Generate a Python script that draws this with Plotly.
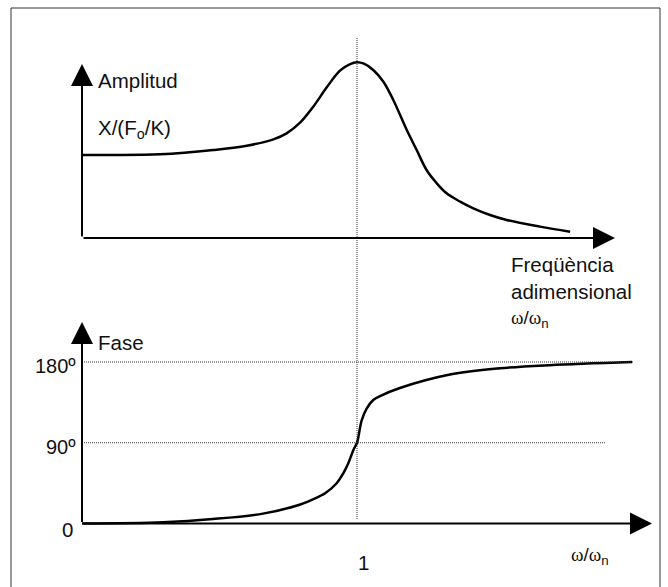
import plotly.graph_objects as go

W, H = 668, 587

# Amplitude response X/(Fo/K) versus frequency ratio w/wn
amp_ratio = [0.0, 0.10, 0.284, 0.477, 0.599, 0.696, 0.744, 0.793, 0.841, 0.890,
             0.938, 0.975, 1.0, 1.025, 1.059, 1.096, 1.132, 1.181, 1.217, 1.253,
             1.290, 1.326, 1.375, 1.423, 1.484, 1.544, 1.665, 1.775]
amp_value = [1.0, 1.0, 1.008, 1.060, 1.112, 1.189, 1.261, 1.389, 1.582, 1.815,
             2.016, 2.096, 2.117, 2.100, 2.024, 1.883, 1.663, 1.301, 1.060, 0.819,
             0.659, 0.538, 0.438, 0.357, 0.277, 0.217, 0.137, 0.076]

# Phase angle (degrees) versus frequency ratio
phase_ratio = [0.0, 0.295, 0.476, 0.658, 0.782, 0.840, 0.884, 0.926, 0.950, 0.968,
               0.987, 1.0, 1.017, 1.035, 1.059, 1.084, 1.156, 1.338, 1.52, 1.70, 2.0]
phase_deg = [0, 1.5, 5, 11, 20, 27, 33.7, 44.8, 56, 67,
             82, 90, 115, 128, 137.6, 142, 151, 166, 173, 176.5, 180]

phase_ticks = [180, 90]
phase_tick_text = ["180º", "90º"]

# ---- pixel layout of the drawing ----
X0_PX, X_UNIT_PX = 82, 275          # ratio 0 and pixels per unit ratio
AMP0_PX, AMP_UNIT_PX = 238, 83      # amplitude zero line, pixels per unit
PH0_PX, PH_DEG_PX = 523.5, (523.5 - 362) / 180.0

def py2paper(py):
    return 1 - py / H

def px2paper(px):
    return px / W

x_range = [-X0_PX / X_UNIT_PX, (W - X0_PX) / X_UNIT_PX]
y1_range = [(AMP0_PX - H / 2) / AMP_UNIT_PX, AMP0_PX / AMP_UNIT_PX]
y2_range = [(PH0_PX - H) / PH_DEG_PX, (PH0_PX - H / 2) / PH_DEG_PX]

fig = go.Figure()

curve = dict(color="black", width=2.5, shape="spline", smoothing=1.0)
fig.add_trace(go.Scatter(x=amp_ratio, y=amp_value, mode="lines", line=curve,
                         xaxis="x", yaxis="y", hoverinfo="skip"))
fig.add_trace(go.Scatter(x=phase_ratio, y=phase_deg, mode="lines", line=curve,
                         xaxis="x2", yaxis="y2", hoverinfo="skip"))

hidden = dict(visible=False, showgrid=False, zeroline=False, fixedrange=True)
fig.update_layout(
    width=W, height=H,
    margin=dict(l=0, r=0, t=0, b=0),
    paper_bgcolor="white", plot_bgcolor="white",
    showlegend=False,
    font=dict(family="Liberation Sans, Arial, sans-serif", color="#111111"),
    xaxis=dict(domain=[0, 1], range=x_range, anchor="y", **hidden),
    yaxis=dict(domain=[0.5, 1], range=y1_range, anchor="x", **hidden),
    xaxis2=dict(domain=[0, 1], range=x_range, anchor="y2", **hidden),
    yaxis2=dict(domain=[0, 0.5], range=y2_range, anchor="x2", **hidden),
)

dotted = dict(color="#333333", width=1, dash="1px,1px")
shapes = [
    # outer frame
    dict(type="rect", xref="paper", yref="paper",
         x0=px2paper(11), x1=px2paper(660), y0=py2paper(600), y1=py2paper(8),
         line=dict(color="#333333", width=1)),
    # resonance marker at w/wn = 1 spanning both panels
    dict(type="line", xref="x", yref="paper", x0=1, x1=1,
         y0=py2paper(519), y1=py2paper(38), line=dotted),
    # phase reference levels
    dict(type="line", xref="x2", yref="y2", x0=0, x1=(633 - X0_PX) / X_UNIT_PX,
         y0=180, y1=180, line=dotted),
    dict(type="line", xref="x2", yref="y2", x0=0, x1=(605 - X0_PX) / X_UNIT_PX,
         y0=90, y1=90, line=dotted),
]

def axis_arrow(xr, yr, tip_x, tip_y):
    return dict(x=tip_x, y=tip_y, ax=0, ay=0, xref=xr, yref=yr, axref=xr, ayref=yr,
                text="", showarrow=True, arrowhead=2, arrowsize=2.2, arrowwidth=2,
                arrowcolor="black", standoff=0, startstandoff=0)

annotations = [
    axis_arrow("x", "y", 0, (AMP0_PX - 64) / AMP_UNIT_PX),
    axis_arrow("x", "y", (615 - X0_PX) / X_UNIT_PX, 0),
    axis_arrow("x2", "y2", 0, (PH0_PX - 322) / PH_DEG_PX),
    axis_arrow("x2", "y2", (652 - X0_PX) / X_UNIT_PX, 0),
]

def label(text, px, py, size=20.5, xanchor="left"):
    return dict(text=text, x=px2paper(px), y=py2paper(py), xref="paper", yref="paper",
                xanchor=xanchor, yanchor="middle", align="left", showarrow=False,
                font=dict(size=size, color="#111111"))

omega = '<span style="font-family:Liberation Serif">ω</span>'
annotations += [
    label("Amplitud", 96, 80),
    label("X/(F<sub>o</sub>/K)", 96, 129),
    label("Freqüència<br>adimensional", 509, 278),
    label(omega + "/" + omega + "<sub>n</sub>", 509, 319, size=19),
    label("Fase", 96, 342),
    label(omega + "/" + omega + "<sub>n</sub>", 569, 556, size=19),
    label("1", 363, 562, xanchor="center"),
    label("0", 67, 529, xanchor="center"),
]
for v, t in zip(phase_ticks, phase_tick_text):
    annotations.append(dict(text=t, x=px2paper(78), y=v, xref="paper", yref="y2",
                            xanchor="right", yanchor="middle", yshift=-4, showarrow=False,
                            font=dict(size=20, color="#111111")))

fig.update_layout(shapes=shapes, annotations=annotations)
fig.write_html("out.html")
